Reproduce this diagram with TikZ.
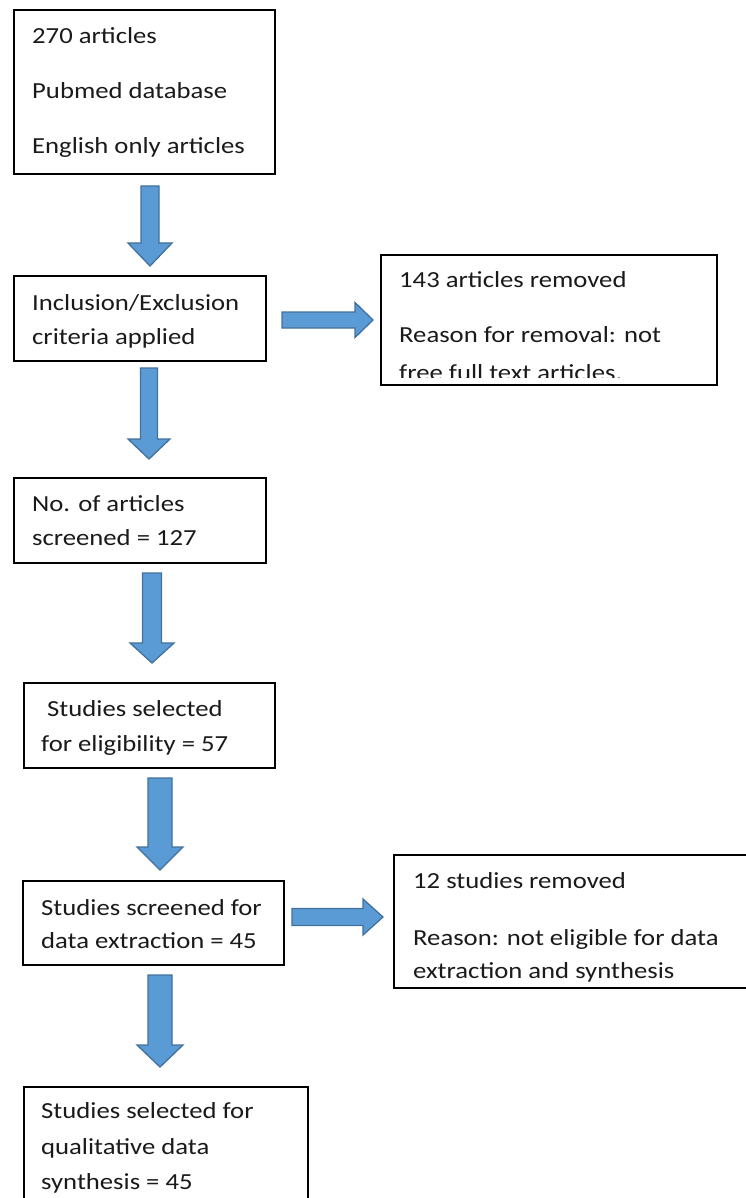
\documentclass[tikz,border=0pt]{standalone}
\usepackage{fontspec}
\setmainfont{Carlito}
\usetikzlibrary{calc}
\definecolor{arrowfill}{HTML}{5B9BD5}
\definecolor{arrowline}{HTML}{41719C}
\definecolor{inkcol}{HTML}{1A1A1A}
\newcommand{\wtxt}[1]{\scalebox{1.16}[1]{#1}}
\newcommand{\vblock}[5]{\draw[blockarrow] let \p1=(#1), \p2=(#2) in
 ({\x1-#3pt},\y1) -- ({\x1+#3pt},\y1) -- ({\x1+#3pt},{\y2+#5pt}) -- ({\x1+#4pt},{\y2+#5pt}) -- (\x1,\y2) -- ({\x1-#4pt},{\y2+#5pt}) -- ({\x1-#3pt},{\y2+#5pt}) -- cycle;}
\newcommand{\hblock}[5]{\draw[blockarrow] let \p1=(#1), \p2=(#2) in
 (\x1,{\y1+#3pt}) -- ({\x2-#5pt},{\y1+#3pt}) -- ({\x2-#5pt},{\y1+#4pt}) -- (\x2,\y1) -- ({\x2-#5pt},{\y1-#4pt}) -- ({\x2-#5pt},{\y1-#3pt}) -- (\x1,{\y1-#3pt}) -- cycle;}
\begin{document}
\begin{tikzpicture}[x=1pt,y=-1pt,
  box/.style={draw=black, line width=1.6pt, rectangle, inner sep=0pt, anchor=north west},
  txt/.style={anchor=base west, inner sep=0pt, font=\fontsize{23}{27}\selectfont, text=inkcol},
  blockarrow/.style={fill=arrowfill, draw=arrowline, line width=1.3pt, line join=miter}]
\clip (0,0) rectangle (746,1198);
\fill[white] (0,0) rectangle (746,1198);
% boxes
\node[box, minimum width=261pt, minimum height=164pt] (b1) at (13,9) {};
\node[box, minimum width=252pt, minimum height=85pt] (b2) at (13,275) {};
\node[box, minimum width=252pt, minimum height=85pt] (b3) at (13,477) {};
\node[box, minimum width=251pt, minimum height=85pt] (b4) at (23,682) {};
\node[box, minimum width=261pt, minimum height=84pt] (b5) at (22,880) {};
\node[box, minimum width=284pt, minimum height=140pt] (b6) at (23,1086) {};
\node[box, minimum width=336pt, minimum height=130pt] (r1) at (380,254) {};
\node[box, minimum width=370pt, minimum height=133pt] (r2) at (393,854) {};
% texts
\node[txt] (t1a) at (32,44) {\wtxt{270 articles}};
\node[txt] (t1b) at (32,99) {\wtxt{Pubmed database}};
\node[txt] (t1c) at (32,154) {\wtxt{English only articles}};
\node[txt] (t2a) at (32,310) {\wtxt{Inclusion/Exclusion}};
\node[txt] (t2b) at (32,344) {\wtxt{criteria applied}};
\node[txt] (t3a) at (32,511) {\wtxt{No. of articles}};
\node[txt] (t3b) at (32,545) {\wtxt{screened = 127}};
\node[txt] (t4a) at (47,716) {\wtxt{Studies selected}};
\node[txt] (t4b) at (41,751) {\wtxt{for eligibility = 57}};
\node[txt] (t5a) at (41,915) {\wtxt{Studies screened for}};
\node[txt] (t5b) at (41,948) {\wtxt{data extraction = 45}};
\node[txt] (t6a) at (41,1118) {\wtxt{Studies selected for}};
\node[txt] (t6b) at (41,1154) {\wtxt{qualitative data}};
\node[txt] (t6c) at (41,1189) {\wtxt{synthesis = 45}};
\node[txt] (r1a) at (399,287) {\wtxt{143 articles removed}};
\node[txt] (r1b) at (399,342) {\wtxt{Reason for removal: not}};
\begin{scope}
\clip (380,350) rectangle (716,377);
\node[txt] (r1c) at (399,380) {\wtxt{free full text articles.}};
\end{scope}
\node[txt] (r2a) at (413,888) {\wtxt{12 studies removed}};
\node[txt] (r2b) at (413,945) {\wtxt{Reason: not eligible for data}};
\begin{scope}
\clip (393,955) rectangle (760,982);
\node[txt] (r2c) at (413,978) {\wtxt{extraction and synthesis}};
\end{scope}
% arrow end points
\coordinate (a1s) at (150,186); \coordinate (a1e) at (150,266);
\coordinate (a2s) at (149,368); \coordinate (a2e) at (149,459);
\coordinate (a3s) at (152,573); \coordinate (a3e) at (152,663);
\coordinate (a4s) at (160,778); \coordinate (a4e) at (160,870);
\coordinate (a5s) at (160,975); \coordinate (a5e) at (160,1067);
\coordinate (h1s) at (282,320); \coordinate (h1e) at (373,320);
\coordinate (h2s) at (292,917); \coordinate (h2e) at (383,917);
\vblock{a1s}{a1e}{9}{22}{23}
\vblock{a2s}{a2e}{8.5}{21}{20}
\vblock{a3s}{a3e}{9.5}{22}{20}
\vblock{a4s}{a4e}{12}{23}{23}
\vblock{a5s}{a5e}{12}{23}{22}
\hblock{h1s}{h1e}{8}{17.5}{18}
\hblock{h2s}{h2e}{8.5}{18}{20}
\end{tikzpicture}
\end{document}
